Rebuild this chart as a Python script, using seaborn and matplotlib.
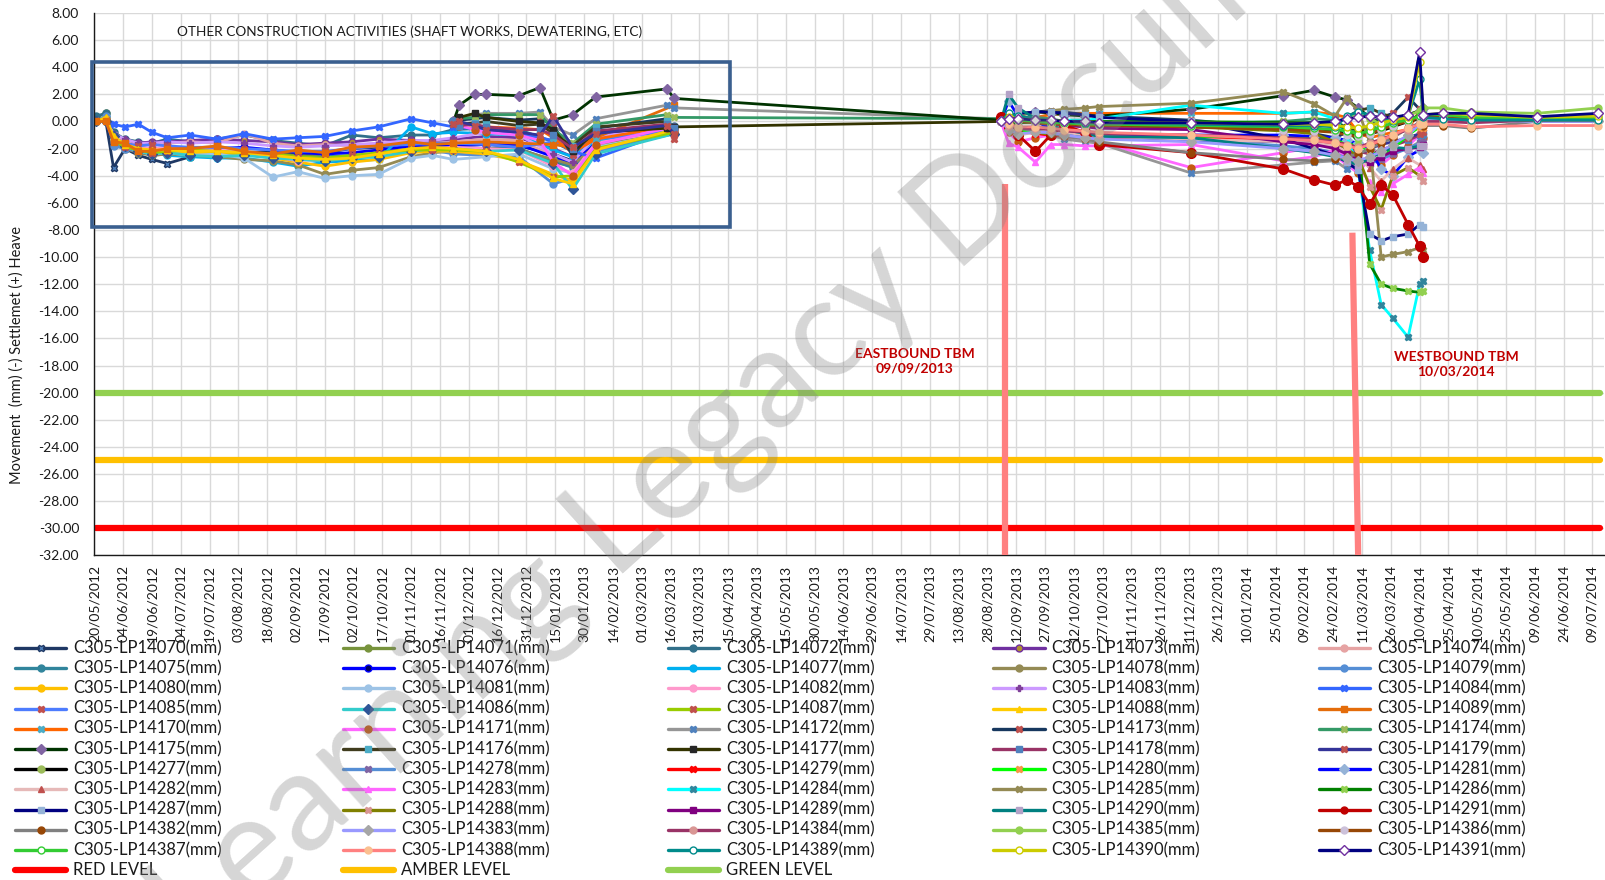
import numpy as np
import pandas as pd
import seaborn as sns
import matplotlib.pyplot as plt
from matplotlib.lines import Line2D
from matplotlib.patches import Rectangle

# reading dates, as days after 20/05/2012
START = pd.Timestamp('2012-05-20')
DAYS_A = [1, 6, 10, 16, 23, 30, 38, 50, 64, 78, 93, 106, 120, 134, 148, 165, 176, 187, 204, 221, 239, 249, 261, 302]
DAYS_B = [187, 190, 198, 204, 221, 232, 239, 249, 261, 298, 302]
DAYS_C = [472, 476, 481, 490, 498, 505, 516, 523, 571, 619, 635, 646, 652, 658, 664, 670, 676, 684, 690, 692]
DAYS_D = [702, 717, 751, 783]

# movement (mm) - first monitoring group (DAYS_A)
LP14070 = [0.0, 0.0, -3.4, -2.0, -2.5, -2.8, -3.1, -2.6, -2.4, -2.3, -2.2, -2.4,
           -2.3, -2.0, -1.9, -1.6, -1.7, -1.9, -2.0, -1.8, -2.4, -2.9, -1.8, -0.8]
LP14071 = [0.3, 0.6, -1.2, -1.8, -2.2, -2.5, -2.4, -2.6, -2.5, -2.3, -2.4, -2.5,
           -2.6, -2.7, -2.3, -2.0, -1.9, -2.0, -2.1, -2.0, -3.0, -3.3, -1.9, -0.9]
LP14072 = [0.4, 0.6, -0.8, -1.3, -1.5, -1.6, -1.3, -1.5, -1.3, -1.0, -1.4, -1.6,
           -1.8, -1.0, -1.2, -1.0, -1.0, -0.6, -0.5, -0.6, -1.5, -2.2, -0.9, -0.3]
LP14073 = [0.0, 0.2, -1.0, -1.4, -1.6, -1.5, -1.5, -1.4, -1.3, -1.4, -1.5, -1.7,
           -1.6, -1.5, -1.3, -1.4, -1.5, -1.3, -1.1, -1.2, -2.0, -2.6, -1.0, -0.4]
LP14074 = [0.0, 0.1, -1.1, -1.5, -1.8, -1.7, -1.6, -1.5, -1.6, -0.9, -1.6, -1.8,
           -1.7, -1.8, -1.6, -1.5, -1.6, -1.5, -1.3, -1.4, -2.5, -3.0, -1.2, -0.5]
LP14075 = [0.0, 0.3, -1.3, -1.9, -2.3, -2.4, -2.3, -2.2, -2.5, -2.3, -2.6, -2.7,
           -2.6, -2.5, -2.4, -2.1, -2.0, -2.1, -2.0, -2.0, -2.9, -3.4, -1.7, -0.6]
LP14076 = [0.0, 0.0, -1.5, -1.8, -2.0, -2.1, -2.0, -2.1, -2.0, -1.9, -2.1, -2.3,
           -2.4, -2.3, -2.1, -1.8, -1.9, -1.8, -1.7, -1.7, -2.6, -3.1, -1.6, -0.7]
LP14077 = [0.0, 0.0, -1.0, -1.7, -2.1, -2.3, -2.5, -2.6, -2.7, -2.7, -3.0, -3.3,
           -3.0, -2.9, -2.8, -0.4, -0.9, -0.8, -0.9, -1.0, -2.1, -2.6, -1.4, -0.9]
LP14078 = [0.0, 0.2, -1.5, -2.0, -2.3, -2.5, -2.4, -2.5, -2.6, -2.8, -2.9, -3.2,
           -3.9, -3.6, -3.4, -2.6, -2.3, -2.2, -2.0, -2.1, -2.8, -3.2, -1.8, -0.8]
LP14079 = [0.0, 0.4, -1.8, -2.0, -2.2, -2.3, -2.2, -2.4, -2.3, -2.4, -2.6, -2.8,
           -2.9, -2.7, -2.5, -2.2, -2.1, -2.4, -2.5, -2.6, -4.6, -4.2, -2.2, -0.9]
LP14080 = [0.0, 0.2, -1.3, -1.8, -2.0, -2.2, -2.2, -2.3, -2.3, -2.4, -2.7, -3.0,
           -3.3, -3.0, -2.8, -2.3, -2.2, -2.2, -2.4, -2.9, -3.9, -4.4, -2.0, -0.7]
LP14081 = [0.0, 0.0, -1.2, -1.8, -2.2, -2.4, -2.3, -2.5, -2.4, -2.7, -4.1, -3.7,
           -4.2, -4.0, -3.9, -2.7, -2.5, -2.8, -2.6, -2.4, -3.5, -3.8, -1.9, -0.8]
LP14082 = [0.0, 0.0, -1.0, -1.5, -1.9, -2.0, -1.9, -2.0, -2.1, -2.2, -2.6, -2.9,
           -2.7, -2.6, -2.5, -2.1, -2.0, -1.9, -2.0, -2.1, -3.3, -3.8, -1.6, -0.6]
LP14083 = [0.0, 0.1, -0.9, -1.3, -1.6, -1.6, -1.5, -1.6, -1.5, -1.6, -1.8, -1.9,
           -1.8, -1.7, -1.6, -1.4, -1.4, -1.2, -0.8, -1.0, -2.4, -3.0, -1.1, -0.5]
LP14084 = [0.0, 0.1, -0.2, -0.4, -0.2, -0.8, -1.2, -1.0, -1.3, -0.9, -1.3, -1.2,
           -1.1, -0.7, -0.4, 0.2, -0.1, -0.4, -0.6, -0.9, -1.4, -2.2, -2.7, -0.6]
LP14085 = [0.0, 0.0, -1.2, -1.6, -1.8, -1.7, -1.8, -1.9, -1.9, -2.0, -2.1, -2.2,
           -2.2, -2.0, -1.8, -1.7, -1.6, -1.6, -1.7, -1.9, -1.5, -1.8, -1.3, -0.7]
LP14086 = [0.0, 0.0, -1.1, -1.8, -2.2, -2.4, -2.3, -2.5, -2.6, -2.5, -2.7, -2.8,
           -2.9, -2.7, -2.6, -2.2, -2.0, -2.0, -2.2, -2.1, -3.1, -5.0, -2.4, -0.9]
LP14087 = [0.0, 0.1, -1.3, -1.9, -2.1, -2.3, -2.2, -2.1, -2.2, -2.3, -2.4, -2.6,
           -2.7, -2.5, -2.3, -2.1, -2.1, -2.1, -2.2, -3.0, -4.1, -4.0, -2.0, -0.8]
LP14088 = [0.0, 0.3, -1.1, -1.7, -2.0, -2.1, -2.1, -2.2, -2.2, -2.3, -2.5, -2.7,
           -2.8, -2.7, -2.4, -2.0, -1.9, -2.0, -2.2, -2.8, -4.2, -4.6, -2.1, -0.6]
LP14089 = [0.0, 0.0, -1.5, -1.6, -2.2, -2.2, -2.0, -2.0, -1.8, -2.2, -2.4, -2.1,
           -2.3, -1.9, -1.8, -1.5, -1.7, -1.6, -1.5, -1.6, -1.7, -1.9, -1.2, 1.2]

# 1417x points: DAYS_B then DAYS_C (None = no reading)
LP14170 = [0.0, -0.2, -0.3, -0.4, -0.5, -0.6, -1.2, -2.3, -1.3, -0.4, -0.6,
           None, -0.3, 0.1, 0.3, 0.5, 0.6, 0.6, 0.6, 0.6, 0.6, 0.7, 0.5, 0.3, -0.8, -1.2, -1.0, -0.8, -0.6, 0.8, 0.9]
LP14171 = [0.0, -0.3, -0.6, -0.8, -1.0, -1.4, -3.0, -4.0, -1.7, -0.5, -0.8,
           None, -0.8, -1.5, -1.2, -1.0, -1.1, -1.3, -1.5, -3.4, -2.3, -1.9, -2.5, -3.2, -3.8, -2.7, -3.2, -2.5, -1.8, -1.0, -1.2]
LP14172 = [0.0, 0.3, 0.5, 0.6, 0.6, 0.7, -0.4, -1.0, 0.2, 1.2, 1.0,
           0.2, -0.3, -0.6, -0.8, -1.0, -1.3, -1.5, -1.6, -3.8, -3.2, -3.0, -2.9, -3.5, -3.0, -2.6, -2.8, -2.3, -2.0, -1.5, -1.0]
LP14173 = [0.0, 0.1, 0.2, 0.3, 0.1, 0.2, -0.3, -2.5, -0.5, 0.2, -1.3,
           None, 0.3, 0.5, 0.7, 0.8, 0.7, 0.5, 0.4, 0.1, -0.5, -0.9, -1.2, -0.8, -1.0, -0.3, 0.3, 0.6, 1.8, 0.9, 0.8]
LP14174 = [0.0, 0.2, 0.3, 0.5, 0.5, 0.5, -0.6, -1.6, -0.2, 0.5, 0.3,
           0.2, 0.0, 0.2, 0.3, 0.2, 0.0, -0.2, -0.3, -0.1, 0.0, 0.2, 0.1, -0.5, -0.8, -0.3, -0.6, -0.4, 0.2, 0.4, 0.5]
LP14175 = [0.0, 1.2, 2.0, 2.0, 1.9, 2.5, 0.1, 0.5, 1.8, 2.4, 1.7,
           0.1, 0.2, 0.5, 0.7, 0.6, 0.5, 0.4, 0.4, 0.9, 1.9, 2.3, 1.8, 1.6, 1.0, 0.3, -0.2, 0.2, 0.5, 0.8, 1.0]
LP14176 = [0.0, -0.2, -0.1, 0.0, -0.3, -0.2, -0.9, -1.8, -0.4, 0.0, -0.4,
           None, 0.3, 0.4, 0.2, 0.0, -0.1, -0.1, -0.1, -0.1, -0.1, -0.1, -0.2, 0.3, 0.8, 1.0, 0.6, 0.3, 0.0, 0.5, 0.7]
LP14177 = [-0.1, 0.3, 0.6, 0.3, 0.0, -0.1, -0.6, -2.2, -0.8, -0.5, -0.4,
           0.0, -0.2, -0.1, 0.0, 0.0, -0.1, -0.2, -0.2, -0.1, -0.1, -0.2, -0.2, -0.4, -0.6, -0.8, -0.5, -0.3, 0.1, 0.4, 0.5]
LP14178 = [0.0, -0.3, -0.2, -0.4, -0.6, -0.6, -1.0, -2.0, -0.7, -0.2, -0.5,
           None, -0.4, -0.6, -0.5, -0.4, -0.6, -0.8, -0.9, -1.1, -1.3, -1.4, -1.7, -1.9, -2.2, -2.4, -2.1, -1.8, -1.4, -1.0, -0.9]
LP14179 = [-0.2, 0.0, -0.3, -0.6, -0.8, -1.0, 0.4, -1.9, -0.9, -0.3, -0.9,
           None, -0.5, -0.7, -0.6, -0.5, -0.6, -0.9, -1.1, -1.4, -1.5, -1.6, -1.9, -2.1, -2.4, -2.0, -1.7, -1.5, -1.2, -0.9, -0.8]

# 142xx points (DAYS_C)
LP14277 = [0.0, 0.2, 0.1, 0.0, -0.1, -0.2, -0.3, -0.3, -0.4, -0.5, -0.5, -0.7, -0.8, -1.0, -0.9, -0.7, -0.4, 0.0, 0.2, 0.3]
LP14278 = [0.0, -0.5, -0.8, -0.7, -0.6, -0.8, -1.0, -1.0, -1.3, -1.8, -2.0, -2.3, -2.6, -2.9, -3.1, -2.8, -2.4, -2.0, -1.6, -1.5]
LP14279 = [0.0, -0.4, -0.7, -0.9, -1.0, -1.1, -1.2, -1.2, -1.2, -1.3, -1.3, -1.4, -1.6, -1.8, -1.9, -1.5, -1.1, -0.5, -0.2, -0.3]
LP14280 = [0.0, -0.3, -0.6, -0.8, -0.9, -1.0, -1.1, -1.1, -1.1, -1.1, -1.2, -1.3, -1.5, -1.7, -2.2, -2.6, -2.0, -1.0, -0.4, -0.5]
LP14281 = [0.0, 1.5, 0.4, 0.0, -0.5, -0.8, -1.0, -1.0, -1.0, -1.0, -1.1, -1.2, -1.4, -1.6, -2.0, -3.5, -4.0, -2.6, -2.1, -2.3]
LP14282 = [0.0, -0.6, -1.0, -0.8, -0.7, -0.8, -1.0, -1.1, -1.3, -1.5, -1.6, -1.8, -2.2, -2.7, -3.4, -4.4, -3.5, -2.7, -3.2, -3.5]
LP14283 = [0.0, -1.6, -1.9, -3.0, -1.7, -1.7, -1.8, -1.8, -1.7, -2.9, -2.6, -2.1, -2.5, -3.2, -4.5, -5.2, -4.6, -3.9, -3.4, -3.8]
LP14284 = [0.0, 0.5, 0.3, 0.0, -0.2, 0.1, 0.1, 0.2, 1.2, 0.6, 0.7, 0.2, -1.0, -3.5, -9.5, -13.5, -14.5, -15.9, -12.0, -11.8]
LP14285 = [0.0, 0.3, 0.5, 0.6, 0.8, 0.9, 1.0, 1.1, 1.35, 2.2, 1.3, 0.4, 1.7, 0.8, -1.5, -10.0, -9.8, -9.6, -9.3, -9.5]
LP14286 = [0.0, -0.2, -0.1, 0.0, 0.1, 0.0, 0.0, 0.0, 0.0, -0.1, -0.1, -0.3, -0.5, -1.5, -10.5, -12.0, -12.3, -12.5, -12.6, -12.5]
LP14287 = [0.0, 0.4, 0.6, 0.7, 0.7, 0.6, 0.5, 0.3, 0.0, -1.3, -2.0, -2.5, -3.0, -3.6, -8.3, -8.8, -8.5, -8.3, -7.6, -7.8]
LP14288 = [0.0, 0.2, 0.3, 0.2, 0.1, 0.0, -0.1, -0.2, -0.4, -0.7, -0.9, -1.5, -2.0, -2.6, -4.8, -6.5, -4.0, -3.4, -4.0, -4.4]
LP14289 = [0.0, 0.3, 0.1, -0.1, -0.2, -0.3, -0.4, -0.5, -0.6, -1.5, -1.7, -2.0, -2.4, -2.8, -3.0, -2.6, -2.2, -2.0, -1.9, -1.7]
LP14290 = [0.0, 2.0, 1.0, 0.2, -0.3, -0.6, -0.9, -1.1, -1.2, -2.0, -2.3, -2.6, -2.9, -3.2, -2.7, -2.3, -1.9, -2.0, -1.8, -1.8]
LP14291 = [0.3, -0.4, -1.0, -2.2, -1.0, -0.3, -0.8, -1.7, -2.3, -3.5, -4.3, -4.7, -4.3, -4.8, -6.1, -4.7, -5.4, -7.6, -9.2, -10.0]

# 143xx points: DAYS_C then DAYS_D
LP14382 = [0.0, -0.3, -0.5, -0.7, -0.9, -1.1, -1.3, -1.5, -2.3, -2.8, -2.9, -2.8, -2.6, -2.4, -2.0, -1.6, -1.2, -0.5, -0.1, -0.3, -0.3, -0.5, 0.0, 0.0]
LP14383 = [0.0, -0.6, -0.9, -0.8, -0.8, -1.0, -1.2, -1.3, -1.5, -2.0, -2.2, -2.5, -2.7, -2.9, -2.6, -2.2, -1.7, -1.0, -0.2, 0.1, 0.1, 0.1, 0.0, 0.0]
LP14384 = [0.0, -0.3, -0.5, -0.5, -0.6, -0.7, -0.8, -0.9, -1.0, -1.2, -1.3, -1.5, -1.7, -1.9, -1.6, -1.3, -1.0, -0.6, -0.1, 0.0, 0.0, -0.1, 0.1, 0.2]
LP14385 = [0.0, 0.4, 0.3, 0.2, 0.1, 0.0, -0.1, -0.1, -0.2, -0.3, -0.2, -0.1, 0.3, 0.6, 0.2, -0.2, 0.1, 0.4, 0.8, 1.0, 1.0, 0.7, 0.6, 1.0]
LP14386 = [0.0, 0.1, 0.0, -0.1, -0.2, -0.2, -0.3, -0.3, -0.4, -0.6, -0.7, -0.8, -1.0, -1.1, -0.9, -0.6, -0.3, 0.0, 0.3, 0.4, 0.3, 0.2, 0.1, 0.1]
LP14387 = [0.0, 0.2, 0.1, 0.0, -0.1, -0.1, -0.2, -0.2, -0.3, -0.4, -0.5, -0.6, -0.7, -0.9, -0.7, -0.4, -0.1, 0.1, 0.4, 0.5, 0.5, 0.3, 0.2, 0.3]
LP14388 = [0.0, -0.2, -0.4, -0.4, -0.5, -0.6, -0.7, -0.8, -1.0, -1.3, -1.4, -1.6, -1.8, -2.0, -1.7, -1.4, -1.0, -0.5, -0.2, -0.2, -0.2, -0.4, -0.3, -0.3]
LP14389 = [0.0, 0.6, 0.4, 0.2, 0.1, 0.0, -0.1, -0.1, -0.2, -0.3, -0.3, -0.4, 0.4, 0.7, 0.5, 0.2, 0.0, 0.4, 3.1, 0.3, 0.2, 0.1, 0.1, 0.1]
LP14390 = [0.0, 0.3, 0.2, 0.1, 0.1, 0.0, 0.0, -0.1, -0.1, -0.2, -0.2, -0.3, -0.4, -0.5, -0.3, -0.1, 0.1, 0.3, 4.4, 0.5, 0.6, 0.5, 0.3, 0.4]
LP14391 = [0.0, 0.2, 0.2, 0.1, 0.1, 0.0, 0.0, -0.1, -0.1, -0.2, -0.1, 0.0, 0.2, 0.3, 0.4, 0.3, 0.3, 0.5, 5.1, 0.5, 0.6, 0.6, 0.35, 0.6]

LEVEL_NAMES = ['RED LEVEL', 'AMBER LEVEL', 'GREEN LEVEL']
LEVEL_MM = [-30.0, -25.0, -20.0]
LEVEL_DAYS = [1, 784]

TBM_LABELS = ['EASTBOUND TBM\n09/09/2013', 'WESTBOUND TBM\n10/03/2014']
TBM_LINE_DAYS = [[474, 474], [655, 658]]
TBM_LINE_MM = [[-4.6, -32.0], [-8.2, -32.0]]
TBM_LABEL_DAYS = [427, 709]
TBM_LABEL_MM = [-17.7, -17.9]

NOTE = 'OTHER CONSTRUCTION ACTIVITIES (SHAFT WORKS, DEWATERING, ETC)'
NOTE_POS = (164, 6.65)
BOX_DAYS = [-1, 331]
BOX_MM = [-7.8, 4.35]

SERIES = [
    ('C305-LP14070(mm)', DAYS_A, LP14070), ('C305-LP14071(mm)', DAYS_A, LP14071),
    ('C305-LP14072(mm)', DAYS_A, LP14072), ('C305-LP14073(mm)', DAYS_A, LP14073),
    ('C305-LP14074(mm)', DAYS_A, LP14074), ('C305-LP14075(mm)', DAYS_A, LP14075),
    ('C305-LP14076(mm)', DAYS_A, LP14076), ('C305-LP14077(mm)', DAYS_A, LP14077),
    ('C305-LP14078(mm)', DAYS_A, LP14078), ('C305-LP14079(mm)', DAYS_A, LP14079),
    ('C305-LP14080(mm)', DAYS_A, LP14080), ('C305-LP14081(mm)', DAYS_A, LP14081),
    ('C305-LP14082(mm)', DAYS_A, LP14082), ('C305-LP14083(mm)', DAYS_A, LP14083),
    ('C305-LP14084(mm)', DAYS_A, LP14084), ('C305-LP14085(mm)', DAYS_A, LP14085),
    ('C305-LP14086(mm)', DAYS_A, LP14086), ('C305-LP14087(mm)', DAYS_A, LP14087),
    ('C305-LP14088(mm)', DAYS_A, LP14088), ('C305-LP14089(mm)', DAYS_A, LP14089),
    ('C305-LP14170(mm)', DAYS_B + DAYS_C, LP14170), ('C305-LP14171(mm)', DAYS_B + DAYS_C, LP14171),
    ('C305-LP14172(mm)', DAYS_B + DAYS_C, LP14172), ('C305-LP14173(mm)', DAYS_B + DAYS_C, LP14173),
    ('C305-LP14174(mm)', DAYS_B + DAYS_C, LP14174), ('C305-LP14175(mm)', DAYS_B + DAYS_C, LP14175),
    ('C305-LP14176(mm)', DAYS_B + DAYS_C, LP14176), ('C305-LP14177(mm)', DAYS_B + DAYS_C, LP14177),
    ('C305-LP14178(mm)', DAYS_B + DAYS_C, LP14178), ('C305-LP14179(mm)', DAYS_B + DAYS_C, LP14179),
    ('C305-LP14277(mm)', DAYS_C, LP14277), ('C305-LP14278(mm)', DAYS_C, LP14278),
    ('C305-LP14279(mm)', DAYS_C, LP14279), ('C305-LP14280(mm)', DAYS_C, LP14280),
    ('C305-LP14281(mm)', DAYS_C, LP14281), ('C305-LP14282(mm)', DAYS_C, LP14282),
    ('C305-LP14283(mm)', DAYS_C, LP14283), ('C305-LP14284(mm)', DAYS_C, LP14284),
    ('C305-LP14285(mm)', DAYS_C, LP14285), ('C305-LP14286(mm)', DAYS_C, LP14286),
    ('C305-LP14287(mm)', DAYS_C, LP14287), ('C305-LP14288(mm)', DAYS_C, LP14288),
    ('C305-LP14289(mm)', DAYS_C, LP14289), ('C305-LP14290(mm)', DAYS_C, LP14290),
    ('C305-LP14291(mm)', DAYS_C, LP14291),
    ('C305-LP14382(mm)', DAYS_C + DAYS_D, LP14382), ('C305-LP14383(mm)', DAYS_C + DAYS_D, LP14383),
    ('C305-LP14384(mm)', DAYS_C + DAYS_D, LP14384), ('C305-LP14385(mm)', DAYS_C + DAYS_D, LP14385),
    ('C305-LP14386(mm)', DAYS_C + DAYS_D, LP14386), ('C305-LP14387(mm)', DAYS_C + DAYS_D, LP14387),
    ('C305-LP14388(mm)', DAYS_C + DAYS_D, LP14388), ('C305-LP14389(mm)', DAYS_C + DAYS_D, LP14389),
    ('C305-LP14390(mm)', DAYS_C + DAYS_D, LP14390), ('C305-LP14391(mm)', DAYS_C + DAYS_D, LP14391),
]

# styles: line colour, marker, marker face, marker edge (same order as SERIES)
STYLES = [
    ('#1F3864', 'X', '#4F81BD', '#1F3864'), ('#77933C', 'o', '#77933C', '#77933C'),
    ('#31708A', 'o', '#31708A', '#31708A'), ('#7030A0', 'o', '#B09030', '#7030A0'),
    ('#E6A3A3', 'o', '#E6A3A3', '#E6A3A3'), ('#31859C', 'o', '#31859C', '#31859C'),
    ('#0000FF', 'o', '#000060', '#0000FF'), ('#00B0F0', 'o', '#00B0F0', '#00B0F0'),
    ('#948A54', 'o', '#948A54', '#948A54'), ('#558ED5', 'o', '#558ED5', '#558ED5'),
    ('#FFC000', 'o', '#FFC000', '#FFC000'), ('#9DC3E6', 'o', '#9DC3E6', '#9DC3E6'),
    ('#FF99CC', 'o', '#FF99CC', '#FF99CC'), ('#CC99FF', 'P', '#7F3F98', '#7F3F98'),
    ('#3366FF', 'X', '#3366FF', '#3366FF'), ('#4D7CFE', 'X', '#C0504D', '#C0504D'),
    ('#33CCCC', 'D', '#2F5597', '#2F5597'), ('#99CC00', 'X', '#C0504D', '#C0504D'),
    ('#FFCC00', '^', '#FFCC00', '#FFCC00'), ('#E46C0A', 's', '#E46C0A', '#E46C0A'),
    ('#FF6600', 'X', '#4BACC6', '#4BACC6'), ('#FF66FF', 'o', '#C55A11', '#C55A11'),
    ('#969696', 'X', '#4F81BD', '#4F81BD'), ('#17375E', 'X', '#C0504D', '#C0504D'),
    ('#339966', 'X', '#9BBB59', '#9BBB59'), ('#003300', 'D', '#8064A2', '#8064A2'),
    ('#403C1E', 's', '#4BACC6', '#4BACC6'), ('#333300', 's', '#262626', '#262626'),
    ('#993366', 's', '#4F81BD', '#4F81BD'), ('#333399', 'X', '#C0504D', '#C0504D'),
    ('#000000', 'o', '#9BBB59', '#9BBB59'), ('#558ED5', 'X', '#8064A2', '#8064A2'),
    ('#FF0000', 'X', '#FF0000', '#FF0000'), ('#00FF00', 'X', '#F79646', '#F79646'),
    ('#0000FF', 'D', '#95B3D7', '#95B3D7'), ('#E6B9B8', '^', '#C0504D', '#C0504D'),
    ('#FF66FF', '^', '#FF66FF', '#FF66FF'), ('#00FFFF', 'X', '#31859C', '#31859C'),
    ('#948A54', 'X', '#948A54', '#948A54'), ('#008000', 'X', '#92D050', '#92D050'),
    ('#000080', 's', '#95B3D7', '#95B3D7'), ('#808000', 'X', '#D99694', '#D99694'),
    ('#800080', 's', '#800080', '#800080'), ('#008080', 's', '#B3A2C7', '#B3A2C7'),
    ('#C00000', 'o', '#C00000', '#C00000'),
    ('#808080', 'o', '#974706', '#974706'), ('#9999FF', 'D', '#A6A6A6', '#A6A6A6'),
    ('#993366', 'o', '#D99694', '#D99694'), ('#92D050', 'o', '#92D050', '#92D050'),
    ('#974706', 'o', '#CCC1DA', '#CCC1DA'), ('#33CC33', 'o', 'white', '#33CC33'),
    ('#FF8080', 'o', '#FAC090', '#FAC090'), ('#008B8B', 'o', 'white', '#008B8B'),
    ('#CCCC00', 'o', 'white', '#CCCC00'), ('#000080', 'D', 'white', '#7030A0'),
]
LEVEL_COLORS = ['#FF0000', '#FFC000', '#92D050']

sns.set_theme(style='whitegrid')
plt.rcParams['font.family'] = ['Lato', 'DejaVu Sans']

W, H = 1606, 880
fig = plt.figure(figsize=(W / 100, H / 100), dpi=100)
ax = fig.add_axes([94.3 / W, 1 - 555.4 / H, (1604 - 94.3) / W, (555.4 - 13) / H])

# monitoring points
for (name, days, vals), (col, mk, mfc, mec) in zip(SERIES, STYLES):
    df = pd.DataFrame({'day': days, 'mm': vals}, dtype=float)
    df['seg'] = df['mm'].isna().cumsum()
    df = df.dropna()
    ms = 7 if name.endswith('14291(mm)') else 5
    sns.lineplot(data=df, x='day', y='mm', units='seg', estimator=None, sort=False,
                 color=col, lw=2, marker=mk, markersize=ms, markerfacecolor=mfc,
                 markeredgecolor=mec, markeredgewidth=1, legend=False, ax=ax)

# trigger levels
for name, v, col in zip(LEVEL_NAMES, LEVEL_MM, LEVEL_COLORS):
    sns.lineplot(x=LEVEL_DAYS, y=[v, v], color=col, lw=4.5, solid_capstyle='round',
                 estimator=None, sort=False, legend=False, ax=ax)

# TBM passing marks
for xs, ys, lab, lx, ly in zip(TBM_LINE_DAYS, TBM_LINE_MM, TBM_LABELS, TBM_LABEL_DAYS, TBM_LABEL_MM):
    ax.plot(xs, ys, color='#FF8080', lw=4.5, solid_capstyle='butt', zorder=5)
    ax.text(lx, ly, lab, ha='center', va='center', color='#C00000', fontsize=10,
            fontweight='bold', linespacing=1.25, zorder=6)

ax.add_patch(Rectangle((BOX_DAYS[0], BOX_MM[0]), BOX_DAYS[1] - BOX_DAYS[0], BOX_MM[1] - BOX_MM[0],
                       fill=False, edgecolor='#3A5F8F', lw=2.6, clip_on=False, zorder=6))
ax.text(NOTE_POS[0], NOTE_POS[1], NOTE, ha='center', va='center', fontsize=9.8, color='#1a1a1a')

# axes
ax.set_xlim(0, 786)
ax.set_ylim(-32, 8)
xt = list(range(0, 781, 15))
ax.set_xticks(xt)
ax.set_xticklabels([(START + pd.Timedelta(days=d)).strftime('%d/%m/%Y') for d in xt], rotation=90)
yt = np.arange(-32, 8.1, 2)
ax.set_yticks(yt)
ax.set_yticklabels([f'{v:.2f}' for v in yt])
ax.set_xlabel('')
ax.set_ylabel('')
ax.grid(True, color='#D9D9D9', lw=1)
for s in ['top', 'right']:
    ax.spines[s].set_visible(False)
for s in ['left', 'bottom']:
    ax.spines[s].set_color('#1a1a1a')
    ax.spines[s].set_linewidth(1)
ax.tick_params(axis='y', length=3, width=1, color='#1a1a1a', labelsize=10, pad=8, labelcolor='#1a1a1a')
ax.tick_params(axis='x', length=3, width=1, color='#1a1a1a', labelsize=10, pad=4, labelcolor='#1a1a1a')

fig.text(16.5 / W, 1 - 355 / H, 'Movement  (mm) (-) Settlemet (+) Heave', rotation=90,
         ha='center', va='center', fontsize=10.5, color='#1a1a1a')

# legend, laid out row by row like the spreadsheet
COL_X = [15.4, 343, 668, 993.5, 1319]
ROW_Y0, ROW_DY = 648, 20.2
entries = [(n, st) for (n, _, _), st in zip(SERIES, STYLES)]
entries += [(n, (c, None, None, None)) for n, c in zip(LEVEL_NAMES, LEVEL_COLORS)]
for i, (label, (col, mk, mfc, mec)) in enumerate(entries):
    x0 = COL_X[i % 5]
    y = 1 - (ROW_Y0 + ROW_DY * (i // 5)) / H
    if mk is None:
        fig.add_artist(Line2D([x0 / W, (x0 + 51) / W], [y, y], color=col, lw=4.5,
                              solid_capstyle='round'))
    else:
        fig.add_artist(Line2D([x0 / W, (x0 + 51) / W], [y, y], color=col, lw=2.4))
        fig.add_artist(Line2D([(x0 + 25.5) / W], [y], marker=mk, ms=5, mfc=mfc, mec=mec,
                              mew=1, lw=0))
    fig.text((x0 + 58) / W, y, label, ha='left', va='center', fontsize=12, color='#1a1a1a')

# watermark
fig.text(790 / W, 1 - 372 / H, 'Learning Legacy Document', rotation=42, ha='center', va='center',
         fontsize=100, color='#808080', alpha=0.32, zorder=20)

fig.savefig('out.png', dpi=100)
